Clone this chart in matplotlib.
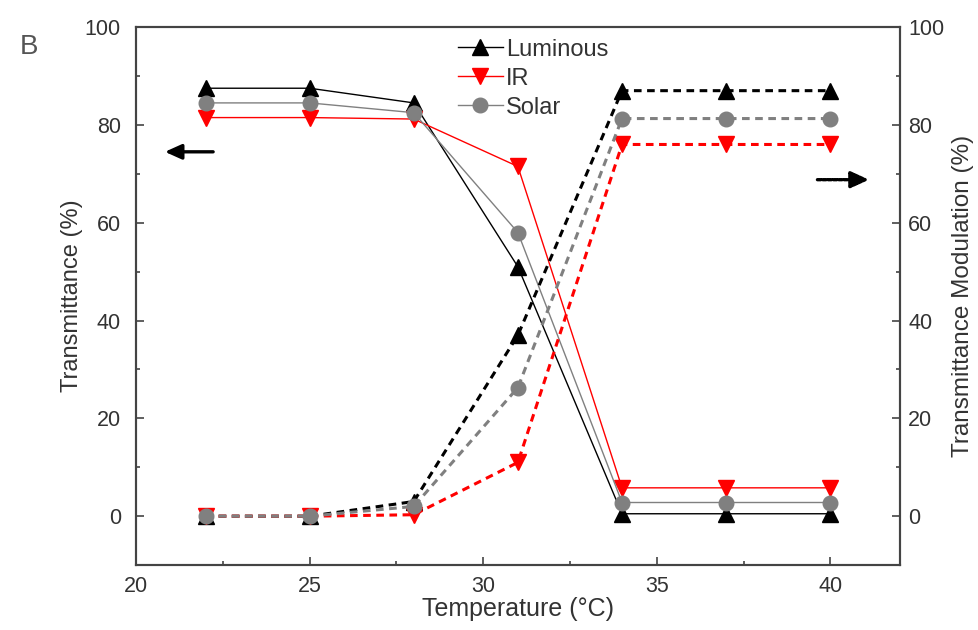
import matplotlib
matplotlib.use("Agg")
import matplotlib.pyplot as plt
from matplotlib.ticker import MultipleLocator

plt.rcParams['font.family'] = ['Liberation Sans', 'DejaVu Sans']

temperature = [22, 25, 28, 31, 34, 37, 40]

# Transmittance (left axis, solid lines)
lum_T = [87.5, 87.5, 84.5, 51, 0.5, 0.5, 0.5]
ir_T = [81.5, 81.5, 81.2, 71.5, 5.8, 5.8, 5.8]
sol_T = [84.5, 84.5, 82.5, 58, 2.8, 2.8, 2.8]

# Transmittance modulation (right axis, dashed lines)
lum_M = [0, 0, 3, 37, 87, 87, 87]
ir_M = [0, 0, 0.3, 11, 76, 76, 76]
sol_M = [0, 0, 2, 26.3, 81.3, 81.3, 81.3]

series_names = ["Luminous", "IR", "Solar"]
text_col = "#333333"

fig = plt.figure(figsize=(9.79, 6.30), dpi=100)
ax = fig.add_axes([0.139, 0.103, 0.780, 0.854])
ax2 = ax.twinx()

ms_tri = 12
ms_circ = 10.5
grey = "#808080"

# solid lines (left)
ax.plot(temperature, lum_T, '-', color='black', lw=1.0, marker='^', ms=ms_tri, label=series_names[0], zorder=3)
ax.plot(temperature, ir_T, '-', color='red', lw=1.0, marker='v', ms=ms_tri, label=series_names[1], zorder=3)
ax.plot(temperature, sol_T, '-', color=grey, lw=1.0, marker='o', ms=ms_circ, label=series_names[2], zorder=3)

# dashed lines (right)
ax2.plot(temperature, lum_M, '--', color='black', lw=2.2, dashes=(2.5, 1.8), marker='^', ms=ms_tri)
ax2.plot(temperature, ir_M, '--', color='red', lw=2.2, dashes=(2.5, 1.8), marker='v', ms=ms_tri)
ax2.plot(temperature, sol_M, '--', color=grey, lw=2.2, dashes=(2.5, 1.8), marker='o', ms=ms_circ)

for a in (ax, ax2):
    a.set_ylim(-10, 100)
    a.yaxis.set_major_locator(MultipleLocator(20))
    a.yaxis.set_minor_locator(MultipleLocator(10))
ax.set_xlim(20, 42)
ax.xaxis.set_major_locator(MultipleLocator(5))
ax.xaxis.set_minor_locator(MultipleLocator(2.5))

ax.tick_params(axis='both', which='major', direction='in', length=6, width=1.2,
               labelsize=15.5, labelcolor=text_col, color='#444444', top=False, pad=8)
ax.tick_params(axis='y', which='major', pad=11)
ax.tick_params(axis='both', which='minor', direction='in', length=3, width=1.2,
               color='#444444', top=False)
ax.tick_params(axis='y', right=False, which='both')
ax2.tick_params(axis='y', which='major', direction='in', length=6, width=1.2,
                labelsize=15.5, labelcolor=text_col, color='#444444', pad=6)
ax2.tick_params(axis='y', which='minor', direction='in', length=3, width=1.2, color='#444444')

for a in (ax, ax2):
    for s in a.spines.values():
        s.set_linewidth(1.5)
        s.set_color('#444444')

ax.set_xlabel("Temperature (\u00b0C)", fontsize=18, color=text_col, labelpad=0)
ax.set_ylabel("Transmittance (%)", fontsize=17, color=text_col, labelpad=1)
ax2.set_ylabel("Transmittance Modulation (%)", fontsize=17.5, color=text_col, labelpad=6)

leg = ax.legend(loc='upper center', bbox_to_anchor=(0.52, 1.005), frameon=False,
                fontsize=17, handlelength=1.9, handletextpad=0.15, labelspacing=0.3,
                borderaxespad=0.2)
for t in leg.get_texts():
    t.set_color(text_col)

# arrows
ax.annotate("", xy=(20.75, 74.5), xytext=(22.3, 74.5),
            arrowprops=dict(arrowstyle='-|>,head_length=1.0,head_width=0.45', color='black', lw=2.4))
ax.annotate("", xy=(41.2, 68.8), xytext=(39.55, 68.8),
            arrowprops=dict(arrowstyle='-|>,head_length=1.1,head_width=0.5', color='black', lw=2.4,
                            linestyle=(0, (1, 0.6))))

fig.text(0.02, 0.915, "B", fontsize=20, color='#555555')

fig.savefig("out.png", dpi=100)
